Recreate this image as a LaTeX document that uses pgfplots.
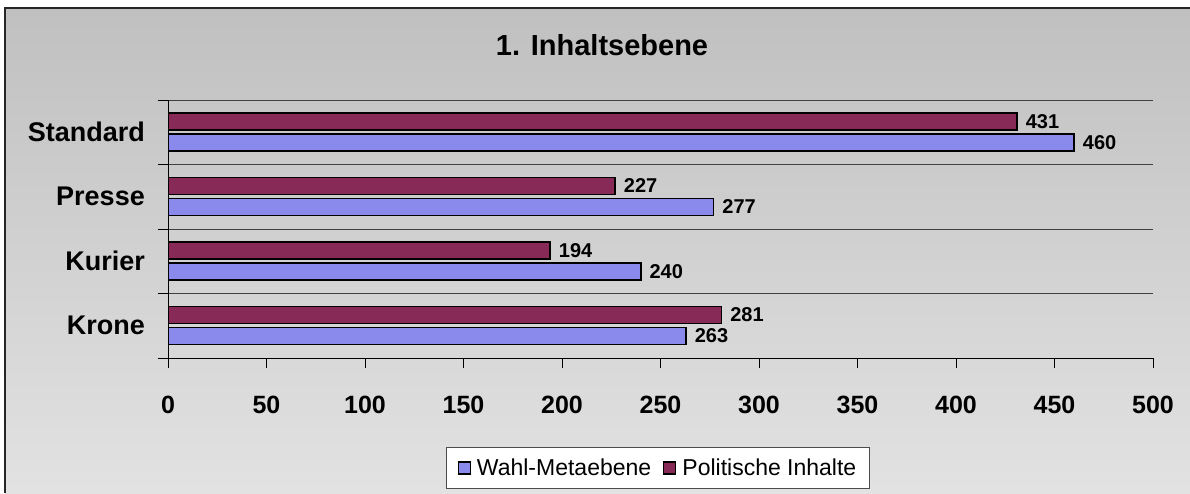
\documentclass[border=0pt]{standalone}
\usepackage{fontspec}
\setmainfont{Liberation Sans}
\usepackage{pgfplots}
\pgfplotsset{compat=1.18}
\definecolor{wahl}{HTML}{8A8AEC}
\definecolor{pol}{HTML}{882A58}
\definecolor{bgtop}{HTML}{C0C0C0}
\definecolor{bgbot}{HTML}{E2E2E2}
\begin{document}
\begin{tikzpicture}[x=1pt,y=1pt]
\useasboundingbox (0,0) rectangle (1190,493);
\fill[white] (0,0) rectangle (1190,493);
\shade[top color=bgtop, bottom color=bgbot] (5,0) rectangle (1190,485);
\draw[line width=2pt, black!85] (5,0) -- (5,485) -- (1190,485);
\node[font=\fontsize{29}{32}\selectfont\bfseries] at (602,448) {1. Inhaltsebene};
\begin{axis}[
  at={(168pt,135pt)}, anchor=south west,
  scale only axis, width=985pt, height=258pt,
  xbar, bar width=17pt,
  xmin=0, xmax=500, ymin=-0.5, ymax=3.5,
  xtick={0,50,...,500},
  ytick={-0.5,0.5,1.5,2.5,3.5}, yticklabels={},
  ymajorgrids, major grid style={black!75, line width=0.8pt},
  extra y ticks={0,1,2,3},
  extra y tick labels={Krone,Kurier,Presse,Standard},
  extra y tick style={major tick length=0pt, ymajorgrids=false,
    yticklabel style={inner sep=0pt, xshift=-23pt, anchor=east,
      font=\fontsize{27}{29}\selectfont\bfseries}},
  axis x line*=bottom, axis y line*=left,
  axis line style={black, line width=1pt, -},
  tick style={black, line width=1pt},
  tick align=outside, major tick length=10pt,
  /pgf/number format/assume math mode=true,
  xticklabel style={anchor=north, inner sep=0pt, yshift=-28pt,
    font=\fontsize{25}{27}\selectfont\bfseries},
  point meta=x,
  nodes near coords,
  every node near coord/.append style={font=\fontsize{20}{21}\selectfont\bfseries,
    text=black, anchor=west, inner sep=0pt, xshift=8pt},
  legend columns=2,
  legend style={at={(0.4975,-0.426)}, anchor=center, draw=black!70, fill=white,
    line width=0.8pt,
    font=\fontsize{23}{25}\selectfont, inner xsep=11pt, inner ysep=9pt,
    /tikz/every odd column/.append style={column sep=4pt},
    /tikz/every even column/.append style={column sep=10pt}},
  legsq/.style={legend image code/.code={\draw[##1,draw=black,line width=1.2pt] (0pt,-6pt) rectangle (12pt,6pt);}},
]
\addplot[fill=wahl, draw=black, line width=1.5pt, bar shift=-10pt, legsq]
  coordinates {(263,0) (240,1) (277,2) (460,3)};
\addplot[fill=pol, draw=black, line width=1.5pt, bar shift=11pt, legsq]
  coordinates {(281,0) (194,1) (227,2) (431,3)};
\legend{Wahl-Metaebene, Politische Inhalte}
\end{axis}
\end{tikzpicture}
\end{document}
